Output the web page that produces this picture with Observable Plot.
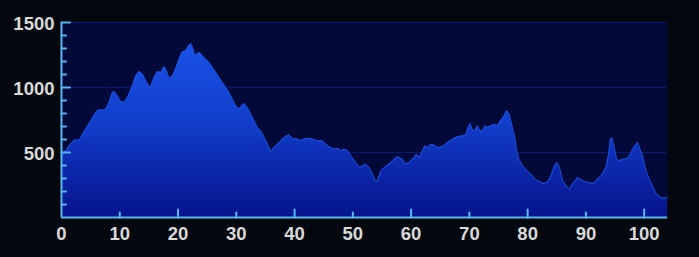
<!DOCTYPE html>
<html>
<head>
<meta charset="utf-8">
<script src="https://cdn.jsdelivr.net/npm/d3@7"></script>
<script src="https://cdn.jsdelivr.net/npm/@observablehq/plot@0.6"></script>
<style>
  html, body { margin: 0; padding: 0; background: #02080e; }
  #chart svg { display: block; }
</style>
</head>
<body>
<div id="chart"></div>
<script>
const distance = [0, 0.4, 0.74, 1.3, 2.17, 3.03, 3.3, 4.17, 5.03, 5.89, 6.3, 7.3, 7.6, 8.18, 8.75, 9.03, 9.6, 10.18, 10.75, 11.32, 12.07, 12.75, 13.33, 13.9, 14.47, 15.2, 15.9, 16.47, 17.04, 17.6, 17.9, 18.47, 19.05, 19.6, 20.2, 20.65, 21.3, 21.8, 22.2, 22.6, 22.94, 23.3, 23.7, 24.2, 24.77, 25.34, 25.9, 26.5, 27.05, 27.6, 28.2, 28.77, 29.35, 29.9, 30.5, 30.9, 31.35, 31.9, 32.5, 33.06, 33.6, 34.2, 34.8, 35.36, 35.9, 36.5, 37.35, 38.2, 39.07, 39.65, 40.2, 41.07, 41.64, 42.2, 43.1, 43.9, 44.8, 45.65, 46.2, 46.8, 47.4, 47.94, 48.5, 49.1, 49.66, 50.5, 51.08, 51.66, 52.2, 52.8, 53.4, 53.8, 54.24, 54.8, 55.4, 56.2, 57.1, 57.67, 58.5, 59.1, 59.67, 60.5, 60.9, 61.4, 61.96, 62.4, 62.8, 63.4, 63.95, 64.5, 65.4, 66.25, 67.1, 67.97, 68.8, 69.4, 69.8, 70.14, 70.55, 70.9, 71.4, 71.8, 72.25, 72.7, 73.1, 73.7, 74.25, 74.8, 75.4, 75.97, 76.4, 76.8, 77.4, 77.8, 78.1, 78.5, 79.1, 79.96, 80.55, 81.4, 82.3, 82.56, 83.4, 84, 84.6, 85, 85.46, 86, 86.6, 87.2, 87.7, 88.6, 89.46, 90.3, 91.2, 91.7, 92.6, 93.46, 93.9, 94.2, 94.45, 94.85, 95.26, 95.7, 96.3, 96.87, 97.4, 97.9, 98.4, 98.87, 99.27, 99.73, 100.3, 100.9, 101.5, 102.1, 102.97, 103.7, 104];
const elevation = [455, 505, 513, 551, 595, 595, 615, 680, 744, 808, 826, 826, 834, 885, 962, 969, 936, 892, 885, 923, 1000, 1090, 1123, 1103, 1051, 995, 1077, 1123, 1115, 1159, 1141, 1069, 1090, 1145, 1218, 1269, 1282, 1320, 1338, 1295, 1243, 1261, 1269, 1243, 1218, 1192, 1154, 1115, 1077, 1038, 1000, 962, 910, 859, 834, 859, 877, 846, 795, 744, 692, 667, 615, 564, 508, 538, 577, 615, 636, 603, 608, 592, 603, 610, 603, 590, 590, 551, 538, 526, 532, 513, 526, 513, 474, 423, 385, 397, 410, 385, 334, 282, 280, 359, 385, 410, 449, 467, 449, 410, 423, 461, 487, 461, 513, 551, 538, 564, 557, 538, 544, 577, 603, 621, 628, 636, 692, 723, 667, 667, 705, 667, 667, 705, 692, 705, 718, 705, 749, 782, 821, 800, 692, 615, 513, 449, 397, 359, 334, 288, 270, 262, 270, 321, 397, 423, 385, 282, 244, 218, 257, 308, 282, 270, 262, 280, 321, 385, 487, 603, 615, 538, 449, 436, 449, 449, 467, 513, 551, 577, 526, 474, 359, 295, 231, 180, 149, 149, 155];

const xLabels = [0, 10, 20, 30, 40, 50, 60, 70, 80, 90, 100];
const xMajorTicks = [20, 40, 60, 80, 100];
const xMinorTicks = [10, 30, 50, 70, 90];
const yLabels = [500, 1000, 1500];
const yMinorTicks = [100, 200, 300, 400, 600, 700, 800, 900, 1100, 1200, 1300, 1400];
const gridValues = [500, 1000, 1500];

const profile = distance.map((d, i) => ({distance: d, elevation: elevation[i]}));

const axisColor = "#58b6f4";
const labelColor = "#d9d9d9";
const tickShape = {draw(context, l) { context.moveTo(0, 0); context.lineTo(0, -l); }};

const gradientDefs = (index, scales) => {
  const svgNS = "http://www.w3.org/2000/svg";
  const defs = document.createElementNS(svgNS, "defs");
  const lg = document.createElementNS(svgNS, "linearGradient");
  lg.setAttribute("id", "areaGrad");
  lg.setAttribute("gradientUnits", "userSpaceOnUse");
  lg.setAttribute("x1", 0); lg.setAttribute("x2", 0);
  lg.setAttribute("y1", scales.y(1500)); lg.setAttribute("y2", scales.y(0));
  [["0", "#1c56ee"], ["0.5", "#123fcc"], ["1", "#06138c"]].forEach(([o, c]) => {
    const s = document.createElementNS(svgNS, "stop");
    s.setAttribute("offset", o); s.setAttribute("stop-color", c);
    lg.appendChild(s);
  });
  defs.appendChild(lg);
  return defs;
};

const chart = Plot.plot({
  width: 699,
  height: 257,
  marginLeft: 61,
  marginRight: 32,
  marginTop: 22,
  marginBottom: 40,
  style: {background: "#02080e", fontFamily: "'Liberation Sans', Arial, sans-serif"},
  x: {domain: [0, 104]},
  y: {domain: [0, 1500]},
  marks: [
    gradientDefs,
    Plot.frame({fill: "#010938", stroke: null}),
    Plot.ruleY(gridValues, {stroke: "#0b1872", strokeWidth: 1.2}),
    Plot.areaY(profile, {x: "distance", y: "elevation", fill: "url(#areaGrad)", curve: "linear"}),
    Plot.lineY(profile, {x: "distance", y: "elevation", stroke: "#1a52e4", strokeWidth: 1, curve: "linear"}),
    Plot.ruleY([0], {stroke: axisColor, strokeWidth: 2}),
    Plot.ruleX([0], {stroke: axisColor, strokeWidth: 2}),
    Plot.vector(yMinorTicks, {y: d => d, frameAnchor: "left", length: 4.5, rotate: 90, anchor: "start", shape: tickShape, stroke: axisColor, strokeWidth: 2}),
    Plot.vector(yLabels, {y: d => d, frameAnchor: "left", length: 8.5, rotate: 90, anchor: "start", shape: tickShape, stroke: axisColor, strokeWidth: 2}),
    Plot.vector(xMinorTicks, {x: d => d, frameAnchor: "bottom", length: 5, rotate: 0, anchor: "start", shape: tickShape, stroke: axisColor, strokeWidth: 2}),
    Plot.vector(xMajorTicks, {x: d => d, frameAnchor: "bottom", length: 8, rotate: 0, anchor: "start", shape: tickShape, stroke: axisColor, strokeWidth: 2}),
    Plot.axisX({ticks: xLabels, tickSize: 0, tickPadding: 9, tickFormat: d => String(d), fill: labelColor, fontSize: 18.5, fontWeight: "bold", label: null}),
    Plot.axisY({ticks: yLabels, tickSize: 0, tickPadding: 7, tickFormat: d => String(d), fill: labelColor, fontSize: 18.5, fontWeight: "bold", dy: 1.5, label: null})
  ]
});
document.getElementById("chart").appendChild(chart);
</script>
</body>
</html>
